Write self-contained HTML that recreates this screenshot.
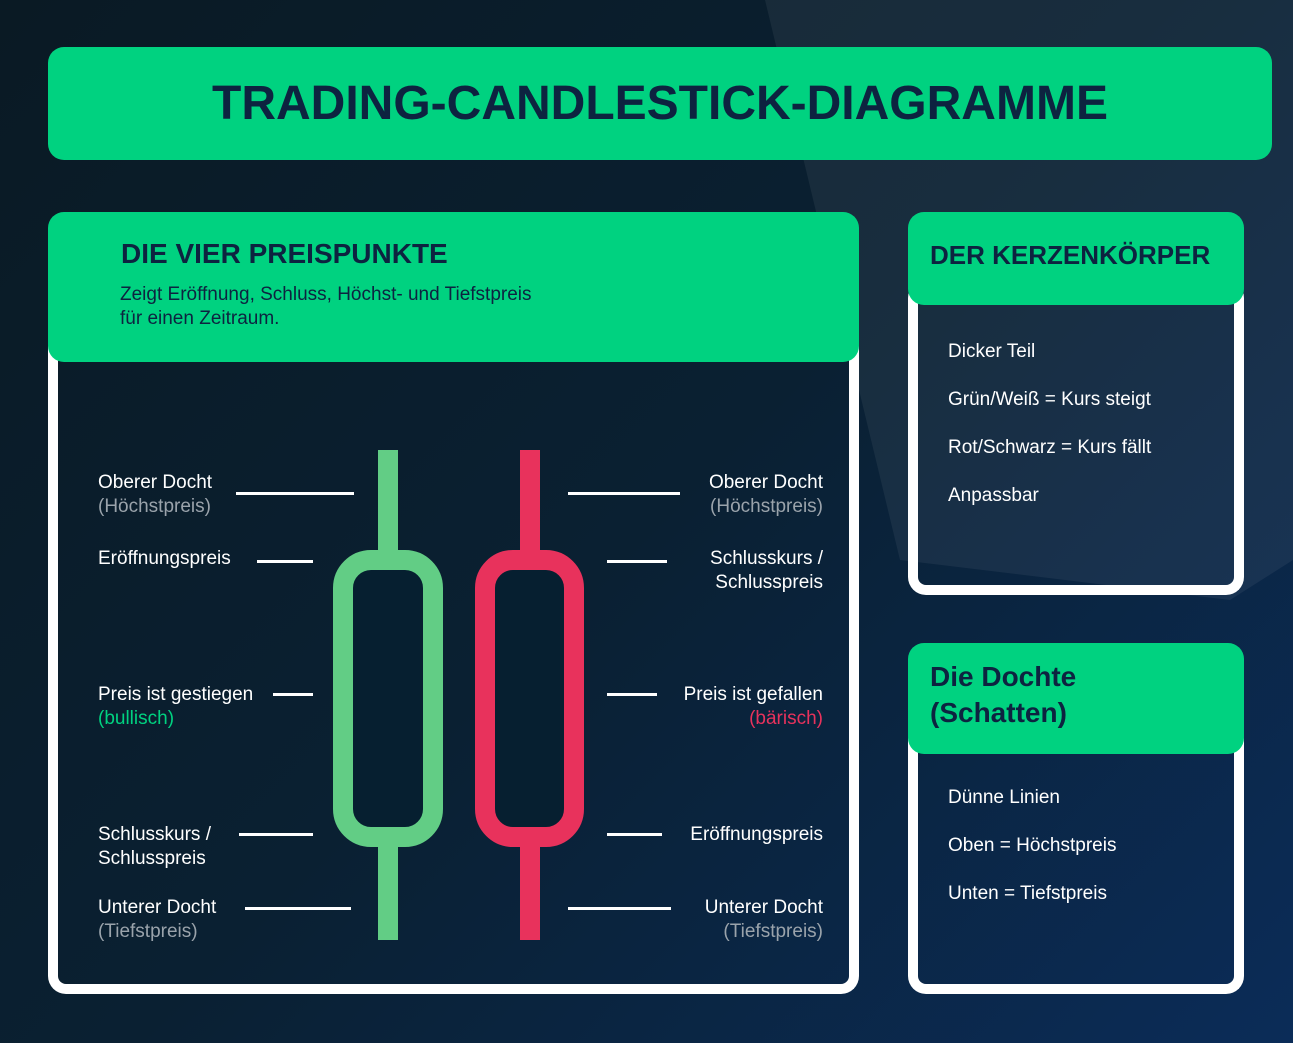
<!DOCTYPE html>
<html><head><meta charset="utf-8"><style>
*{margin:0;padding:0;box-sizing:border-box}
body{width:1293px;height:1043px;overflow:hidden;font-family:"Liberation Sans",sans-serif;background:linear-gradient(135deg,#0a1a24 0%,#0a2032 50%,#0b2c58 100%);position:relative}
.abs{position:absolute}
.card{position:absolute;border:10px solid #fff;border-top:none;border-radius:18px}
.hdr{position:absolute;background:#00d280;border-radius:16px;color:#0d2340}
.t{position:absolute;color:#fff;font-size:19px;line-height:24px;white-space:nowrap}
.g{color:#9aa3ab}
.ln{position:absolute;height:3px;background:#fff}
.r{text-align:right}
</style></head><body>
<svg class="abs" style="left:0;top:0" width="1293" height="1043"><polygon points="765,0 1293,0 1293,560 1230,600 900,560" fill="#ffffff" opacity="0.06"/></svg>

<div class="hdr" style="left:48px;top:47px;width:1224px;height:113px;text-align:center;font-size:48px;font-weight:bold;line-height:113px">TRADING-CANDLESTICK-DIAGRAMME</div>

<div class="card" style="left:48px;top:300px;width:811px;height:694px"></div>
<div class="hdr" style="left:48px;top:212px;width:811px;height:150px">
<div class="abs" style="left:73px;top:26px;font-size:28px;font-weight:bold">DIE VIER PREISPUNKTE</div>
<div class="abs" style="left:72px;top:71px;font-size:19px;line-height:24px;color:#0d2340">Zeigt Eröffnung, Schluss, Höchst- und Tiefstpreis<br>für einen Zeitraum.</div>
</div>

<div class="card" style="left:908px;top:280px;width:336px;height:315px"></div>
<div class="hdr" style="left:908px;top:212px;width:336px;height:93px">
<div class="abs" style="left:22px;top:28px;font-size:26px;font-weight:bold;white-space:nowrap">DER KERZENKÖRPER</div></div>
<div class="t" style="left:948px;top:340px">Dicker Teil</div>
<div class="t" style="left:948px;top:388px">Grün/Weiß = Kurs steigt</div>
<div class="t" style="left:948px;top:436px">Rot/Schwarz = Kurs fällt</div>
<div class="t" style="left:948px;top:484px">Anpassbar</div>

<div class="card" style="left:908px;top:720px;width:336px;height:274px"></div>
<div class="hdr" style="left:908px;top:643px;width:336px;height:111px">
<div class="abs" style="left:22px;top:16px;font-size:28px;font-weight:bold;line-height:36px">Die Dochte<br>(Schatten)</div></div>
<div class="t" style="left:948px;top:786px">Dünne Linien</div>
<div class="t" style="left:948px;top:834px">Oben = Höchstpreis</div>
<div class="t" style="left:948px;top:882px">Unten = Tiefstpreis</div>

<svg class="abs" style="left:0;top:0" width="1293" height="1043">
<rect x="378" y="450" width="20" height="490" fill="#62cd85"/>
<rect x="343" y="560" width="90" height="277" rx="28" fill="#061f30" stroke="#62cd85" stroke-width="20"/>
<rect x="520" y="450" width="20" height="490" fill="#e8325c"/>
<rect x="485" y="560" width="89" height="277" rx="28" fill="#061f30" stroke="#e8325c" stroke-width="20"/>
</svg>

<div class="ln" style="left:236px;top:492px;width:118px"></div>
<div class="ln" style="left:257px;top:560px;width:56px"></div>
<div class="ln" style="left:273px;top:693px;width:40px"></div>
<div class="ln" style="left:239px;top:833px;width:74px"></div>
<div class="ln" style="left:245px;top:907px;width:106px"></div>
<div class="ln" style="left:568px;top:492px;width:112px"></div>
<div class="ln" style="left:607px;top:560px;width:60px"></div>
<div class="ln" style="left:607px;top:693px;width:50px"></div>
<div class="ln" style="left:607px;top:833px;width:55px"></div>
<div class="ln" style="left:568px;top:907px;width:103px"></div>

<div class="t" style="left:98px;top:471px">Oberer Docht<br><span class="g">(Höchstpreis)</span></div>
<div class="t" style="left:98px;top:547px">Eröffnungspreis</div>
<div class="t" style="left:98px;top:683px">Preis ist gestiegen<br><span style="color:#00d280">(bullisch)</span></div>
<div class="t" style="left:98px;top:823px">Schlusskurs /<br>Schlusspreis</div>
<div class="t" style="left:98px;top:896px">Unterer Docht<br><span class="g">(Tiefstpreis)</span></div>

<div class="t r" style="right:470px;top:471px">Oberer Docht<br><span class="g">(Höchstpreis)</span></div>
<div class="t r" style="right:470px;top:547px">Schlusskurs /<br>Schlusspreis</div>
<div class="t r" style="right:470px;top:683px">Preis ist gefallen<br><span style="color:#e8325c">(bärisch)</span></div>
<div class="t r" style="right:470px;top:823px">Eröffnungspreis</div>
<div class="t r" style="right:470px;top:896px">Unterer Docht<br><span class="g">(Tiefstpreis)</span></div>
</body></html>
